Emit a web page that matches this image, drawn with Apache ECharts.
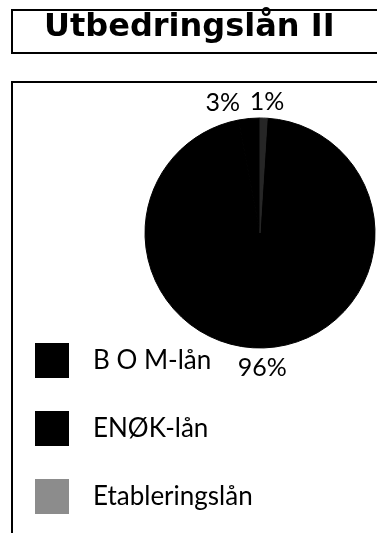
<!DOCTYPE html>
<html>
<head>
<meta charset="utf-8">
<script src="https://cdn.jsdelivr.net/npm/echarts@6/dist/echarts.min.js"></script>
<style>
html,body{margin:0;padding:0;background:#fff;}
#chart{width:377px;height:533px;}
</style>
</head>
<body>
<div id="chart"></div>
<script>
const titleText = 'Utbedringslån II';
const categories = ['B O M-lån', 'ENØK-lån', 'Etableringslån'];
const values = [96, 3, 1];
const legendColors = ['#000000', '#000000', '#8c8c8c'];
const sliceColors = ['#000000', '#000000', '#262626'];
const labelNudge = [[-6, 4], [-25, 0], [3, 0]];

const chart = echarts.init(document.getElementById('chart'), null, {renderer: 'canvas'});
const pieData = categories.map((c, i) => ({
  name: c, value: values[i],
  itemStyle: {color: sliceColors[i], borderColor: sliceColors[i], borderWidth: 1}
}));

chart.setOption({
  animation: false,
  backgroundColor: '#fff',
  title: {
    text: titleText,
    left: 39,
    top: 7,
    textStyle: {fontFamily: 'DejaVu Sans', fontWeight: 'bold', fontSize: 32, color: '#000'}
  },
  graphic: [
    {type: 'rect', shape: {x: 12, y: 10, width: 420, height: 43}, style: {fill: 'none', stroke: '#000', lineWidth: 2}, silent: true},
    {type: 'rect', shape: {x: 12, y: 82, width: 420, height: 520}, style: {fill: 'none', stroke: '#000', lineWidth: 2}, silent: true}
  ],
  legend: {
    orient: 'vertical',
    left: 30,
    top: 338,
    itemWidth: 34,
    itemHeight: 35,
    itemGap: 33,
    icon: 'rect',
    data: categories.map((c, i) => ({name: c, itemStyle: {color: legendColors[i], borderWidth: 0}})),
    textStyle: {fontFamily: 'Lato', fontSize: 26, color: '#000', padding: [0, 0, 0, 19]}
  },
  series: [{
    type: 'pie',
    center: [260, 233],
    radius: 115,
    startAngle: 86.4,
    clockwise: true,
    avoidLabelOverlap: false,
    data: pieData,
    label: {
      show: true,
      position: 'outside',
      formatter: p => p.value + '%',
      fontFamily: 'Lato',
      fontSize: 25,
      color: '#000',
      distanceToLabelLine: 0
    },
    labelLine: {show: false, length: 16, length2: 0},
    labelLayout: function (params) {
      const n = labelNudge[params.dataIndex];
      return {align: 'center', verticalAlign: 'middle', dx: n[0], dy: n[1], hideOverlap: false};
    },
    emphasis: {disabled: true}
  }]
});
</script>
</body>
</html>
